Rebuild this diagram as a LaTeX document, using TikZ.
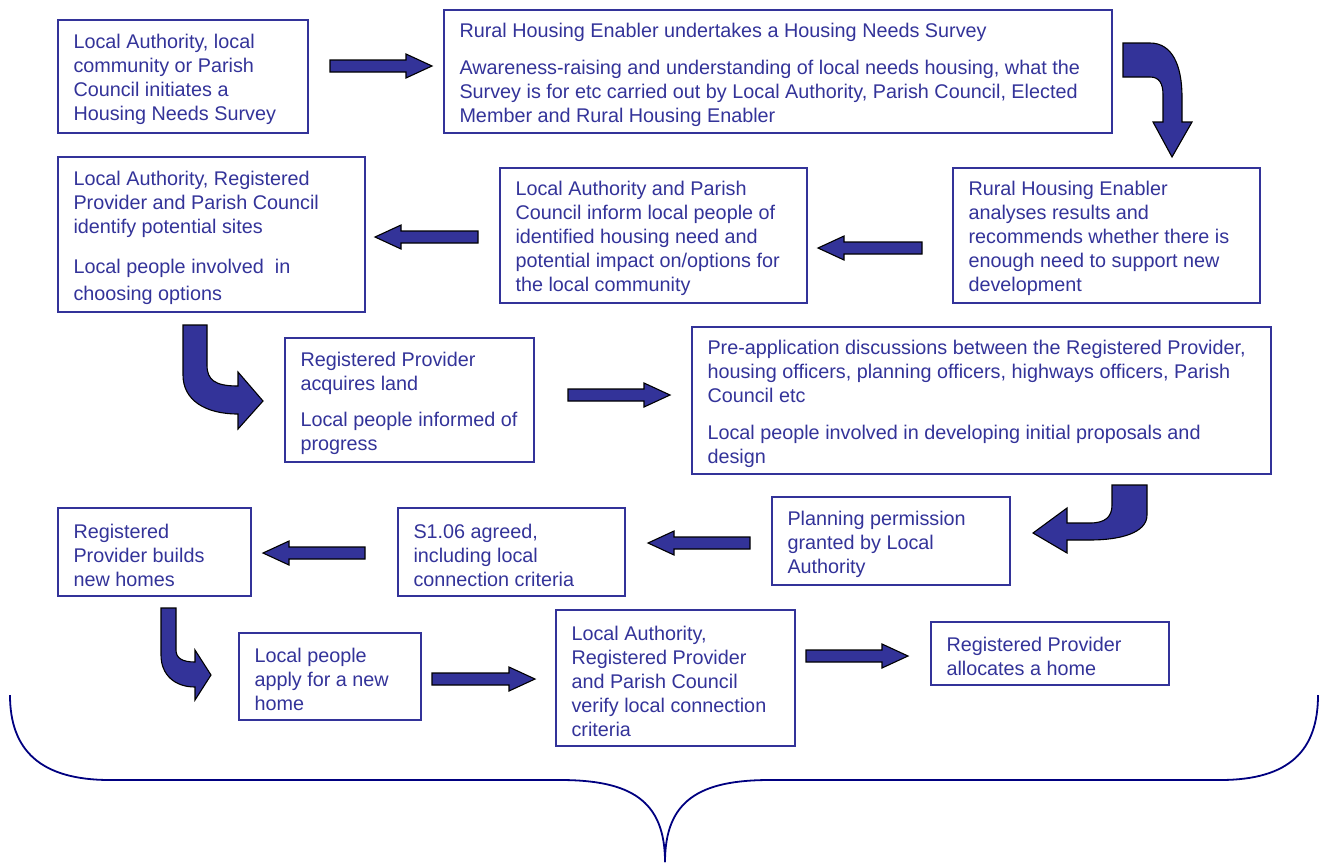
\documentclass[tikz,border=0pt]{standalone}
\usepackage{fontspec}
\setmainfont{Liberation Sans}
\usepackage{xcolor}
\usepackage{tikz}
\usetikzlibrary{positioning,calc}
\definecolor{boxblue}{RGB}{51,51,153}
\definecolor{bracenavy}{RGB}{0,0,128}

\begin{document}
\begin{tikzpicture}[x=1pt,y=-1pt,
	box/.style={draw=boxblue,line width=1.4pt,inner sep=0pt},
	txt/.style={text=boxblue,font=\fontsize{19.8}{24}\selectfont,align=left,anchor=west,inner sep=0pt,yshift=-3pt},
	barrow/.style={fill=boxblue,draw=black,line width=1.1pt,line join=miter}]

	\useasboundingbox (0,0) rectangle (1327,863);

	% boxes, first row
	\node[box,minimum width=250pt,minimum height=113pt] (survey) at (183,76.5) {};
	\node[txt] (surveyt) at ([xshift=16pt]survey.west) {Local Authority, local\\community or Parish\\Council initiates a\\Housing Needs Survey};

	\node[box,minimum width=668pt,minimum height=123pt] (enabler) at (778,71.5) {};
	\node[txt] (enablert) at ([xshift=16pt]enabler.west) {Rural Housing Enabler undertakes a Housing Needs Survey\\[13pt]Awareness-raising and understanding of local needs housing, what the\\Survey is for etc carried out by Local Authority, Parish Council, Elected\\Member and Rural Housing Enabler};

	% second row
	\node[box,minimum width=307pt,minimum height=155pt] (sites) at (211.5,234.5) {};
	\node[txt] (sitest) at ([xshift=16pt]sites.west) {Local Authority, Registered\\Provider and Parish Council\\identify potential sites\\[16pt]Local people involved\ \ in\\[3pt]choosing options};

	\node[box,minimum width=307pt,minimum height=135pt] (inform) at (653.5,235.5) {};
	\node[txt] (informt) at ([xshift=16pt]inform.west) {Local Authority and Parish\\Council inform local people of\\identified housing need and\\potential impact on/options for\\the local community};

	\node[box,minimum width=307pt,minimum height=135pt] (analyse) at (1106.5,235.5) {};
	\node[txt] (analyset) at ([xshift=16pt]analyse.west) {Rural Housing Enabler\\analyses results and\\recommends whether there is\\enough need to support new\\development};

	% third row
	\node[box,minimum width=249pt,minimum height=124pt] (land) at (409.5,400) {};
	\node[txt] (landt) at ([xshift=16pt]land.west) {Registered Provider\\acquires land\\[12pt]Local people informed of\\progress};

	\node[box,minimum width=579pt,minimum height=147pt] (preapp) at (981.5,400.5) {};
	\node[txt] (preappt) at ([xshift=16pt]preapp.west) {Pre-application discussions between the Registered Provider,\\housing officers, planning officers, highways officers, Parish\\Council etc\\[13pt]Local people involved in developing initial proposals and\\design};

	% fourth row
	\node[box,minimum width=238pt,minimum height=88pt] (permission) at (891,541) {};
	\node[txt] (permissiont) at ([xshift=16pt]permission.west) {Planning permission\\granted by Local\\Authority};

	\node[box,minimum width=227pt,minimum height=88pt] (agreed) at (511.5,552) {};
	\node[txt] (agreedt) at ([xshift=16pt]agreed.west) {S1.06 agreed,\\including local\\connection criteria};

	\node[box,minimum width=193pt,minimum height=88pt] (builds) at (154.5,552) {};
	\node[txt] (buildst) at ([xshift=16pt]builds.west) {Registered\\Provider builds\\new homes};

	% fifth row
	\node[box,minimum width=182pt,minimum height=87pt] (apply) at (330,676.5) {};
	\node[txt] (applyt) at ([xshift=16pt]apply.west) {Local people\\apply for a new\\home};

	\node[box,minimum width=239pt,minimum height=136pt] (verify) at (675.5,678) {};
	\node[txt] (verifyt) at ([xshift=16pt]verify.west) {Local Authority,\\Registered Provider\\and Parish Council\\verify local connection\\criteria};

	\node[box,minimum width=238pt,minimum height=63pt] (allocate) at (1050,653.5) {};
	\node[txt] (allocatet) at ([xshift=16pt]allocate.west) {Registered Provider\\allocates a home};

	% straight block arrows
	\fill[barrow] (330,60) -- ++(76,0) -- ++(0,-6) -- ++(26,12) -- ++(-26,12) -- ++(0,-6) -- ++(-76,0) -- cycle;
	\fill[barrow] (922,242) -- ++(-78,0) -- ++(0,-6) -- ++(-26,12) -- ++(26,12) -- ++(0,-6) -- ++(78,0) -- cycle;
	\fill[barrow] (478,231) -- ++(-77,0) -- ++(0,-6) -- ++(-26,12) -- ++(26,12) -- ++(0,-6) -- ++(77,0) -- cycle;
	\fill[barrow] (568,389) -- ++(76,0) -- ++(0,-6) -- ++(26,12) -- ++(-26,12) -- ++(0,-6) -- ++(-76,0) -- cycle;
	\fill[barrow] (750,537) -- ++(-76,0) -- ++(0,-6) -- ++(-26,12) -- ++(26,12) -- ++(0,-6) -- ++(76,0) -- cycle;
	\fill[barrow] (365,547) -- ++(-76,0) -- ++(0,-6) -- ++(-26,12) -- ++(26,12) -- ++(0,-6) -- ++(76,0) -- cycle;
	\fill[barrow] (432,673) -- ++(77,0) -- ++(0,-6) -- ++(26,12) -- ++(-26,12) -- ++(0,-6) -- ++(-77,0) -- cycle;
	\fill[barrow] (806,650) -- ++(76,0) -- ++(0,-6) -- ++(26,12) -- ++(-26,12) -- ++(0,-6) -- ++(-76,0) -- cycle;

	% curved block arrows
	\fill[barrow] (1123,43) -- (1150,43) .. controls (1172,43) and (1182,65) .. (1182,97) -- (1182,122) -- (1192,122) -- (1172,157) -- (1153,122) -- (1163,122) -- (1163,95) .. controls (1163,83) and (1159,77) .. (1150,77) -- (1123,77) -- cycle;
	\fill[barrow] (183,325) -- (207,325) -- (207,365) .. controls (207,380) and (215,386) .. (238,386) -- (238,372) -- (263,401) -- (238,429) -- (238,414) .. controls (205,414) and (183,400) .. (183,375) -- cycle;
	\fill[barrow] (1147,485) -- (1147,515) .. controls (1147,533) and (1120,540) .. (1090,540) -- (1067,540) -- (1067,553) -- (1033,533) -- (1067,508) -- (1067,523) -- (1090,523) .. controls (1105,523) and (1112,517) .. (1112,505) -- (1112,485) -- cycle;
	\fill[barrow] (161,608) -- (176,608) -- (176,650) .. controls (176,658) and (182,662) .. (195,662) -- (195,650) -- (211,675) -- (195,700) -- (195,687) .. controls (175,687) and (161,675) .. (161,655) -- cycle;

	% brace
	\draw[bracenavy,line width=1.8pt] (10,695) .. controls (10,750) and (40,780) .. (110,780) -- (560,780) .. controls (630,780) and (665,800) .. (665,862);
	\draw[bracenavy,line width=1.8pt] (1318,695) .. controls (1318,750) and (1290,780) .. (1220,780) -- (770,780) .. controls (700,780) and (665,800) .. (665,862);
\end{tikzpicture}
\end{document}
